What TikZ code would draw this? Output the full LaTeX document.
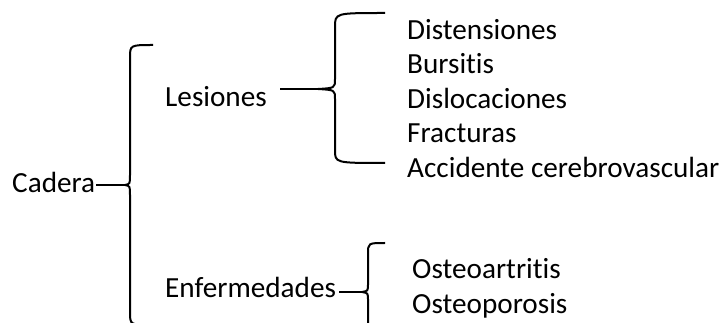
\documentclass[tikz,border=0pt]{standalone}
\usepackage{fontspec}
\setmainfont[Ligatures=CommonOff]{Carlito}
\begin{document}
\begin{tikzpicture}[x=1pt,y=-1pt,
  lbl/.style={anchor=base west,inner sep=0pt,font=\fontsize{29.2}{31}\selectfont},
  ln/.style={line width=2pt,line join=round}]
\useasboundingbox (0,0) rectangle (723,323);
% texts
\node[lbl] (cad) at (12,193) {Cadera};
\node[lbl] (les) at (165,107) {Lesiones};
\node[lbl] (enf) at (165,297) {Enfermedades};
\node[lbl] (i1) at (407,39.5) {Distensiones};
\node[lbl] (i2) at (407,74) {Bursitis};
\node[lbl] (i3) at (407,108.5) {Dislocaciones};
\node[lbl] (i4) at (407,143) {Fracturas};
\node[lbl] (i5) at (407,177.5) {Accidente cerebrovascular};
\node[lbl] (o1) at (412,279) {Osteoartritis};
\node[lbl] (o2) at (412,313) {Osteoporosis};
% brace tips
\coordinate (t0) at (125,185);
\coordinate (t1) at (318,89);
\coordinate (t2) at (362,292);
% connectors
\draw[ln] (cad.east |- t0) ++(1,0) -- (t0);
\draw[ln] (les.east |- t1) ++(13,0) -- (t1);
\draw[ln] (enf.east |- t2) ++(3,0) -- (t2);
% main brace
\draw[ln] (153,45) .. controls (130,45) .. (130,58) -- (130,175)
  .. controls (130,184) .. (t0) .. controls (130,186) .. (130,195) -- (130,312)
  .. controls (130,325) .. (153,325);
% Lesiones brace
\draw[ln] (385,13) .. controls (335,13) .. (335,27) -- (335,79)
  .. controls (335,88) .. (t1) .. controls (335,90) .. (335,99) -- (335,150)
  .. controls (335,163) .. (385,163);
% Enfermedades brace
\draw[ln] (385,243) .. controls (368,243) .. (368,254) -- (368,284)
  .. controls (368,291) .. (t2) .. controls (368,293) .. (368,300) -- (368,330)
  .. controls (368,341) .. (385,341);
\end{tikzpicture}
\end{document}
